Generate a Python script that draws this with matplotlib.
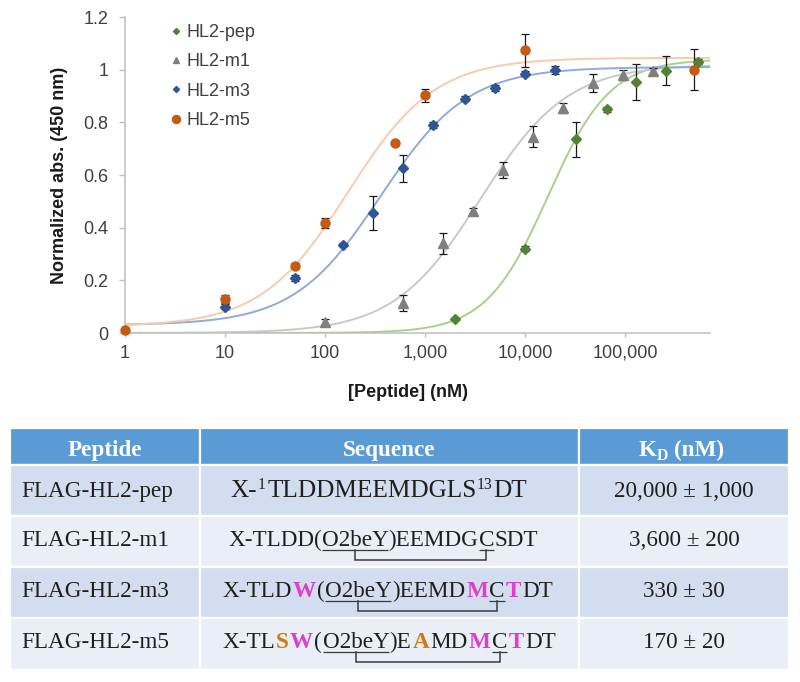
import numpy as np
import matplotlib
matplotlib.use('Agg')
import matplotlib.pyplot as plt
import matplotlib.ft2font as ft
from matplotlib import font_manager
from matplotlib.lines import Line2D
from matplotlib.patches import Rectangle
from matplotlib.ticker import FixedLocator, NullLocator

# ---------------- data ----------------
series_names = ['HL2-pep', 'HL2-m1', 'HL2-m3', 'HL2-m5']

pep_x = [2000, 10000, 32000, 66000, 130000, 260000, 540000]
pep_y = [0.053, 0.32, 0.735, 0.85, 0.953, 0.995, 1.03]
pep_err = [0.005, 0.01, 0.065, 0.01, 0.068, 0.055, 0.01]

m1_x = [100, 600, 1500, 3000, 6000, 12000, 24000, 48000, 96000, 192000]
m1_y = [0.042, 0.114, 0.34, 0.465, 0.62, 0.745, 0.855, 0.95, 0.98, 0.995]
m1_err = [0.01, 0.03, 0.04, 0.01, 0.03, 0.04, 0.02, 0.035, 0.02, 0.01]

m3_x = [10, 50, 150, 300, 600, 1200, 2500, 5000, 10000, 20000]
m3_y = [0.10, 0.209, 0.335, 0.455, 0.625, 0.79, 0.89, 0.93, 0.985, 1.00]
m3_err = [0.01, 0.01, 0.005, 0.065, 0.05, 0.01, 0.01, 0.01, 0.01, 0.015]

m5_x = [1, 10, 50, 100, 500, 1000, 10000, 490000]
m5_y = [0.01, 0.13, 0.255, 0.418, 0.721, 0.903, 1.073, 1.00]
m5_err = [0.0, 0.015, 0.01, 0.02, 0.005, 0.025, 0.062, 0.077]

# Hill-fit parameters of the drawn curves
fit_bottom = [0.0, 0.0, 0.03, 0.025]
fit_top = [1.04, 1.02, 1.01, 1.045]
fit_kd = [17000, 3600, 360, 170]
fit_hill = [1.4, 1.0, 1.0, 1.0]

x_ticks = [1, 10, 100, 1000, 10000, 100000]
x_tick_labels = ['1', '10', '100', '1,000', '10,000', '100,000']
y_ticks = [0, 0.2, 0.4, 0.6, 0.8, 1.0, 1.2]
y_tick_labels = ['0', '0.2', '0.4', '0.6', '0.8', '1', '1.2']

table_headers = ['Peptide', 'Sequence']
kd_header = [('K', 'n'), ('D', 'sub'), ('(nM)', 'n')]
peptides = ['FLAG-HL2-pep', 'FLAG-HL2-m1', 'FLAG-HL2-m3', 'FLAG-HL2-m5']
sequences = [
    [('X-', 'n'), ('1', 's'), ('TLDDMEEMDGLS', 'n'), ('13', 's'), ('DT', 'n')],
    [('X-TLDD(', 'n'), ('O2beY', 'u'), (')EEMDG', 'n'), ('C', 'c'), ('SDT', 'n')],
    [('X-TLD', 'n'), ('W', 'm'), ('(', 'n'), ('O2beY', 'u'), (')EEMD', 'n'), ('M', 'm'),
     ('C', 'c'), ('T', 'm'), ('DT', 'n')],
    [('X-TL', 'n'), ('S', 'o'), ('W', 'm'), ('(', 'n'), ('O2beY', 'u'), (')E', 'n'), ('A', 'o'),
     ('MD', 'n'), ('M', 'm'), ('C', 'c'), ('T', 'm'), ('DT', 'n')],
]
kd_values = ['20,000 ± 1,000', '3,600 ± 200', '330 ± 30', '170 ± 20']

# ---------------- styles ----------------
W, H = 800, 682
marker_colors = ['#548235', '#7F7F7F', '#2F5597', '#C55A11']
curve_colors = ['#A9D18E', '#C9C9C9', '#8FAADC', '#F8CBAD']
markers = ['D', '^', 'D', 'o']
marker_sizes = [5.1, 7.4, 5.1, 6.5]
legend_sizes = [3.1, 4.4, 3.1, 5.8]
SANS = 'Liberation Sans'

fig = plt.figure(figsize=(W / 100, H / 100), dpi=100)
fig.patch.set_facecolor('white')

ax = fig.add_axes([125 / W, 1 - 333 / H, 585 / W, 316 / H])
ax.set_xscale('log')
ax.set_xlim(1, 10 ** 5.85)
ax.set_ylim(0, 1.2)

xs = [pep_x, m1_x, m3_x, m5_x]
ys = [pep_y, m1_y, m3_y, m5_y]
errs = [pep_err, m1_err, m3_err, m5_err]

xfit = np.logspace(0, 5.85, 500)
for i in range(4):
    n = fit_hill[i]
    yfit = fit_bottom[i] + (fit_top[i] - fit_bottom[i]) * xfit ** n / (fit_kd[i] ** n + xfit ** n)
    ax.plot(xfit, yfit, color=curve_colors[i], lw=1.4, zorder=1, solid_capstyle='butt')

for i in range(4):
    x = np.array(xs[i], float)
    y = np.array(ys[i], float)
    e = np.array(errs[i], float)
    mask = e > 0
    ax.errorbar(x[mask], y[mask], yerr=e[mask], fmt='none', ecolor='#1A1A1A', elinewidth=0.9,
                capsize=2.6, capthick=0.9, zorder=2)
    ax.plot(x, y, ls='none', marker=markers[i], ms=marker_sizes[i], color=marker_colors[i],
            mec=marker_colors[i], zorder=3 + i * 0.1, clip_on=False)

for s in ['top', 'right']:
    ax.spines[s].set_visible(False)
for s in ['left', 'bottom']:
    ax.spines[s].set_color('#BFBFBF')
    ax.spines[s].set_linewidth(1.1)

ax.xaxis.set_major_locator(FixedLocator(x_ticks))
ax.xaxis.set_minor_locator(NullLocator())
ax.set_xticklabels(x_tick_labels)
ax.set_yticks(y_ticks)
ax.set_yticklabels(y_tick_labels)
ax.tick_params(axis='y', length=4, width=1, color='#BFBFBF', pad=8, labelsize=13,
               labelcolor='#404040')
ax.tick_params(axis='x', length=3, width=1, color='#BFBFBF', pad=5.5, labelsize=13,
               labelcolor='#404040')
for lab in ax.get_xticklabels() + ax.get_yticklabels():
    lab.set_fontfamily(SANS)

ax.set_ylabel('Normalized abs. (450 nm)', fontsize=13, fontweight='bold',
              fontfamily=SANS, color='#1A1A1A')
ax.yaxis.set_label_coords((68 - 125) / 585, 0.5)
ax.set_xlabel('[Peptide] (nM)', fontsize=13, fontweight='bold',
              fontfamily=SANS, color='#1A1A1A')
ax.xaxis.set_label_coords((408 - 125) / 585, (333 - 384) / 316)

handles = [Line2D([], [], ls='none', marker=markers[i], ms=legend_sizes[i],
                  color=marker_colors[i]) for i in range(4)]
leg = ax.legend(handles, series_names, loc='upper left',
                bbox_to_anchor=(170 / W, 1 - 24 / H), bbox_transform=fig.transFigure,
                frameon=False, prop={'family': SANS, 'size': 13},
                handlelength=0.65, handletextpad=0.25, labelspacing=0.68,
                borderpad=0, borderaxespad=0)
for t in leg.get_texts():
    t.set_color('#404040')

# ---------------- table ----------------
tax = fig.add_axes([0, 0, 1, 1])
tax.set_xlim(0, W)
tax.set_ylim(H, 0)
tax.axis('off')

col_edges = [10, 200, 579, 789]
row_edges = [428, 465, 516, 567, 618, 670]
row_colors = ['#5B9BD5', '#D2DEEF', '#EAEFF7', '#D2DEEF', '#EAEFF7']
for r in range(5):
    for c in range(3):
        tax.add_patch(Rectangle((col_edges[c], row_edges[r]),
                                col_edges[c + 1] - col_edges[c],
                                row_edges[r + 1] - row_edges[r],
                                facecolor=row_colors[r], edgecolor='white', lw=1.6))

SERIF = 'Liberation Serif'
FS = 16.7
TXT = '#1F1F1F'
MAG = '#DD3FC8'
ORG = '#D27A12'
LINE = '#3A3A3A'

try:
    NOHINT = ft.LoadFlags.NO_HINTING
except AttributeError:
    NOHINT = ft.LOAD_NO_HINTING
try:
    KMODE = ft.Kerning.DEFAULT
except AttributeError:
    KMODE = ft.KERNING_DEFAULT

_font_cache = {}


def advance(s, fontsize, fontweight='normal', **_):
    key = fontweight
    if key not in _font_cache:
        path = font_manager.findfont(font_manager.FontProperties(family=SERIF, weight=fontweight))
        _font_cache[key] = ft.FT2Font(path, hinting_factor=1)
    f = _font_cache[key]
    f.set_size(fontsize, 100)
    total = 0.0
    prev = None
    for ch in s:
        gi = f.get_char_index(ord(ch))
        g = f.load_glyph(gi, flags=NOHINT)
        total += g.linearHoriAdvance / 65536.0
        if prev is not None:
            total += f.get_kerning(prev, gi, KMODE) / 64.0
        prev = gi
    return total


def run_style(kind, fs):
    if kind == 'm':
        return dict(color=MAG, fontweight='bold', fontsize=fs), 0
    if kind == 'o':
        return dict(color=ORG, fontweight='bold', fontsize=fs), 0
    if kind == 's':
        return dict(color=TXT, fontweight='normal', fontsize=fs * 0.62), -8
    return dict(color=TXT, fontweight='normal', fontsize=fs), 0


def junction_gap(k1, k2):
    if 's' in (k1, k2):
        return 1.6
    if k1 in ('m', 'o') or k2 in ('m', 'o'):
        return 1.4
    return 0.5


def draw_runs(x0, base, runs, fs):
    x = x0
    marks = {}
    for k, (s, kind) in enumerate(runs):
        st, dy = run_style(kind, fs)
        tax.text(x, base + dy, s, fontfamily=SERIF, va='baseline', ha='left', **st)
        w = advance(s, **st)
        if kind in ('u', 'c'):
            marks[kind] = (x, w)
            tax.plot([x, x + w], [base + 3.5, base + 3.5], color=LINE, lw=0.9,
                     solid_capstyle='butt')
        if k + 1 < len(runs):
            x += w + junction_gap(kind, runs[k + 1][1])
    if 'u' in marks and 'c' in marks:
        xl = marks['u'][0] + marks['u'][1] / 2
        xr = marks['c'][0] + marks['c'][1] / 2
        tax.plot([xl, xl, xr, xr], [base + 3.5, base + 14, base + 14, base + 3.5],
                 color=LINE, lw=1.1, solid_joinstyle='miter')


# header
hbase = 456
tax.text(105, hbase, table_headers[0], fontfamily=SERIF, fontsize=FS, fontweight='bold',
         color='white', ha='center', va='baseline')
tax.text(389.5, hbase, table_headers[1], fontfamily=SERIF, fontsize=FS, fontweight='bold',
         color='white', ha='center', va='baseline')
pieces = []
for s, kind in kd_header:
    fs = FS * 0.68 if kind == 'sub' else FS
    st = dict(fontsize=fs, fontweight='bold', color='white')
    pieces.append((s, st, advance(s, **st), kind))
gaps = [0.5, 5]
tot = sum(p[2] for p in pieces) + sum(gaps)
x = 681 - tot / 2
for k, (s, st, w, kind) in enumerate(pieces):
    yb = hbase + 4 if kind == 'sub' else hbase
    tax.text(x, yb, s, fontfamily=SERIF, ha='left', va='baseline', **st)
    x += w + (gaps[k] if k < len(gaps) else 0)

row_bases = [497, 546, 597, 648]
seq_starts = [230, 228, 222, 222]
seq_sizes = [18.2, FS, FS, FS]
for i in range(4):
    b = row_bases[i]
    tax.text(21, b, peptides[i], fontfamily=SERIF, fontsize=FS, color=TXT,
             ha='left', va='baseline')
    draw_runs(seq_starts[i], b, sequences[i], seq_sizes[i])
    tax.text(684, b, kd_values[i], fontfamily=SERIF, fontsize=FS, color=TXT,
             ha='center', va='baseline')

fig.savefig('out.png', dpi=100, facecolor='white')
